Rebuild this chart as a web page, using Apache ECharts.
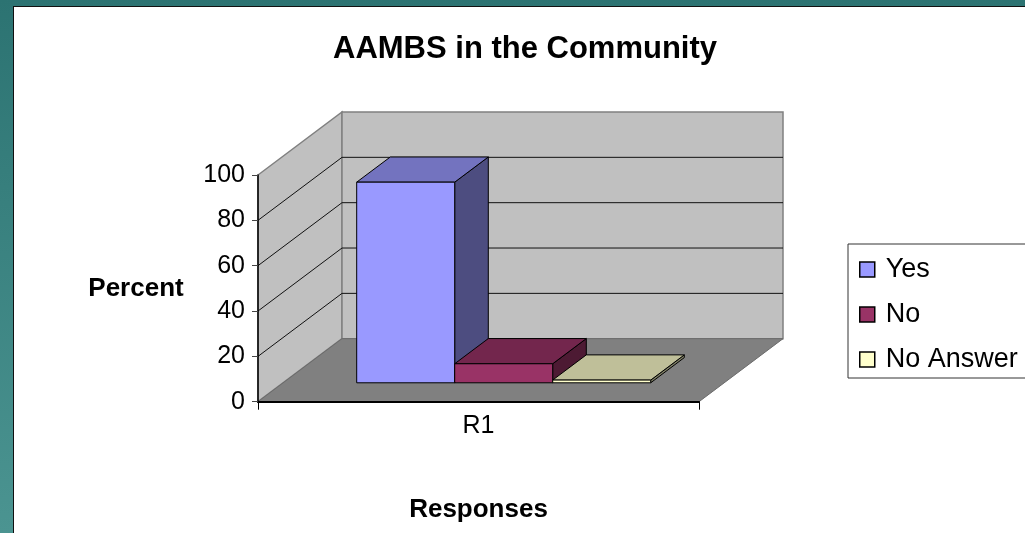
<!DOCTYPE html>
<html>
<head>
<meta charset="utf-8">
<title>AAMBS in the Community</title>
<script src="https://cdn.jsdelivr.net/npm/echarts@6/dist/echarts.min.js"></script>
<style>
  html, body { margin: 0; padding: 0; width: 1025px; height: 533px; overflow: hidden; }
  body { background: linear-gradient(to bottom, #2c7372 0%, #377f7d 35%, #4b9491 100%); position: relative; }
  #panel { position: absolute; left: 13px; top: 6px; width: 1030px; height: 540px; background: #fff; border-left: 1px solid #111; border-top: 1px solid #111; }
  #chart { position: absolute; left: 0; top: 0; width: 1025px; height: 533px; }
</style>
</head>
<body>
<div id="panel"></div>
<div id="chart"></div>
<script>
// Survey data
const CATEGORIES = ['R1'];
const SERIES_NAMES = ['Yes', 'No', 'No Answer'];
const YES = [88.5];
const NO = [8.4];
const NO_ANSWER = [1.2];
const Y_TICKS = [0, 20, 40, 60, 80, 100];

const SERIES_VALUES = [YES, NO, NO_ANSWER];
const COLORS = ['#9999FF', '#993366', '#FFFFCC'];

// Oblique projection of the depth axis (pixels for the full chart depth)
const DEPTH_DX = 84;
const DEPTH_DY = -63;
// Bars occupy the middle of the depth (gap depth 150%)
const BAR_FRONT = 0.3;
const BAR_BACK = 0.7;
// Gap between clusters, as a multiple of one bar width
const GAP_WIDTH = 1.5;

const FONT = "'Liberation Sans', Arial, Helvetica, sans-serif";

function shade(hex, k) {
  const n = parseInt(hex.slice(1), 16);
  const r = Math.round(((n >> 16) & 255) * k);
  const g = Math.round(((n >> 8) & 255) * k);
  const b = Math.round((n & 255) * k);
  return 'rgb(' + r + ',' + g + ',' + b + ')';
}

// Side wall, back wall, gridlines and floor of the 3-D box
function renderWalls(params, api) {
  const cx = api.coord([0, 0])[0];
  const band = api.size([1, 0])[0];
  const xl = cx - band / 2;
  const xr = cx + band / 2;
  const y0 = api.coord([0, Y_TICKS[0]])[1];
  const yTop = api.coord([0, Y_TICKS[Y_TICKS.length - 1]])[1];
  const wallStyle = { fill: '#C0C0C0', stroke: '#808080', lineWidth: 1.5 };
  const children = [
    { type: 'polygon', shape: { points: [[xl, yTop], [xl + DEPTH_DX, yTop + DEPTH_DY], [xl + DEPTH_DX, y0 + DEPTH_DY], [xl, y0]] }, style: wallStyle },
    { type: 'polygon', shape: { points: [[xl + DEPTH_DX, yTop + DEPTH_DY], [xr + DEPTH_DX, yTop + DEPTH_DY], [xr + DEPTH_DX, y0 + DEPTH_DY], [xl + DEPTH_DX, y0 + DEPTH_DY]] }, style: wallStyle }
  ];
  Y_TICKS.slice(1, -1).forEach(function (t) {
    const y = api.coord([0, t])[1];
    children.push({ type: 'polyline', shape: { points: [[xl, y], [xl + DEPTH_DX, y + DEPTH_DY], [xr + DEPTH_DX, y + DEPTH_DY]] }, style: { fill: null, stroke: '#111', lineWidth: 1 } });
  });
  children.push({ type: 'polygon', shape: { points: [[xl, y0], [xr, y0], [xr + DEPTH_DX, y0 + DEPTH_DY], [xl + DEPTH_DX, y0 + DEPTH_DY]] }, style: { fill: '#808080', stroke: '#6a6a6a', lineWidth: 1 } });
  return { type: 'group', children: children };
}

// One 3-D column: front face, top face and right side face
function makeBarRenderer(k) {
  return function (params, api) {
    const cat = api.value(0);
    const val = api.value(1);
    const cx = api.coord([cat, 0])[0];
    const band = api.size([1, 0])[0];
    const n = SERIES_VALUES.length;
    const w = band / (n + GAP_WIDTH);
    const x0 = cx - (n * w) / 2 + k * w;
    const x1 = x0 + w;
    const yb = api.coord([cat, 0])[1];
    const yt = api.coord([cat, val])[1];
    const fx = BAR_FRONT * DEPTH_DX, fy = BAR_FRONT * DEPTH_DY;
    const bx = BAR_BACK * DEPTH_DX, by = BAR_BACK * DEPTH_DY;
    const base = COLORS[k];
    const edge = { stroke: '#000', lineWidth: 1, lineJoin: 'miter' };
    return {
      type: 'group',
      children: [
        { type: 'polygon', shape: { points: [[x1 + fx, yt + fy], [x1 + bx, yt + by], [x1 + bx, yb + by], [x1 + fx, yb + fy]] }, style: Object.assign({ fill: shade(base, 0.5) }, edge) },
        { type: 'polygon', shape: { points: [[x0 + fx, yt + fy], [x1 + fx, yt + fy], [x1 + bx, yt + by], [x0 + bx, yt + by]] }, style: Object.assign({ fill: shade(base, 0.75) }, edge) },
        { type: 'polygon', shape: { points: [[x0 + fx, yt + fy], [x1 + fx, yt + fy], [x1 + fx, yb + fy], [x0 + fx, yb + fy]] }, style: Object.assign({ fill: base }, edge) }
      ]
    };
  };
}

const chart = echarts.init(document.getElementById('chart'), null, { renderer: 'canvas' });

const series = [{
  type: 'custom',
  name: 'walls',
  silent: true,
  data: [[0, 0]],
  renderItem: renderWalls,
  z: 1
}];
SERIES_NAMES.forEach(function (name, k) {
  series.push({
    type: 'custom',
    name: name,
    data: SERIES_VALUES[k].map(function (v, i) { return [i, v]; }),
    encode: { x: 0, y: 1 },
    renderItem: makeBarRenderer(k),
    itemStyle: { color: COLORS[k] },
    color: COLORS[k],
    z: 2
  });
});

chart.setOption({
  animation: false,
  backgroundColor: 'transparent',
  textStyle: { fontFamily: FONT },
  title: {
    text: 'AAMBS in the Community',
    left: 328,
    top: 29,
    textStyle: { fontFamily: FONT, fontSize: 31, fontWeight: 'bold', color: '#000' }
  },
  legend: {
    data: SERIES_NAMES,
    orient: 'vertical',
    left: 848,
    top: 244,
    padding: [12, 200, 5, 11],
    itemGap: 18,
    itemWidth: 15,
    itemHeight: 15,
    icon: 'rect',
    itemStyle: { borderColor: '#000', borderWidth: 1.5 },
    borderColor: '#333',
    borderWidth: 1,
    backgroundColor: '#fff',
    textStyle: { fontFamily: FONT, fontSize: 27, color: '#000', padding: [0, 0, 0, 6] }
  },
  grid: { left: 258, top: 175, width: 441, height: 226.7, outerBoundsMode: 'none' },
  xAxis: {
    type: 'category',
    data: CATEGORIES,
    boundaryGap: true,
    z: 10,
    name: 'Responses',
    nameLocation: 'middle',
    nameGap: 108,
    nameTextStyle: { fontFamily: FONT, fontSize: 26, fontWeight: 'bold', color: '#000', verticalAlign: 'middle' },
    axisLine: { show: true, lineStyle: { color: '#000', width: 2 } },
    axisTick: { show: true, length: 8, lineStyle: { color: '#000', width: 1 } },
    axisLabel: { fontFamily: FONT, fontSize: 25, color: '#000', margin: 12 },
    splitLine: { show: false }
  },
  yAxis: {
    type: 'value',
    min: Y_TICKS[0],
    max: Y_TICKS[Y_TICKS.length - 1],
    interval: 20,
    z: 10,
    name: 'Percent',
    nameLocation: 'middle',
    nameRotate: 0,
    nameGap: 122,
    nameTextStyle: { fontFamily: FONT, fontSize: 26, fontWeight: 'bold', color: '#000', align: 'center', verticalAlign: 'middle' },
    axisLine: { show: true, lineStyle: { color: '#000', width: 1.5 } },
    axisTick: { show: true, length: 6, lineStyle: { color: '#444', width: 1 } },
    axisLabel: { fontFamily: FONT, fontSize: 25, color: '#000', margin: 13 },
    splitLine: { show: false }
  },
  series: series
});
</script>
</body>
</html>
